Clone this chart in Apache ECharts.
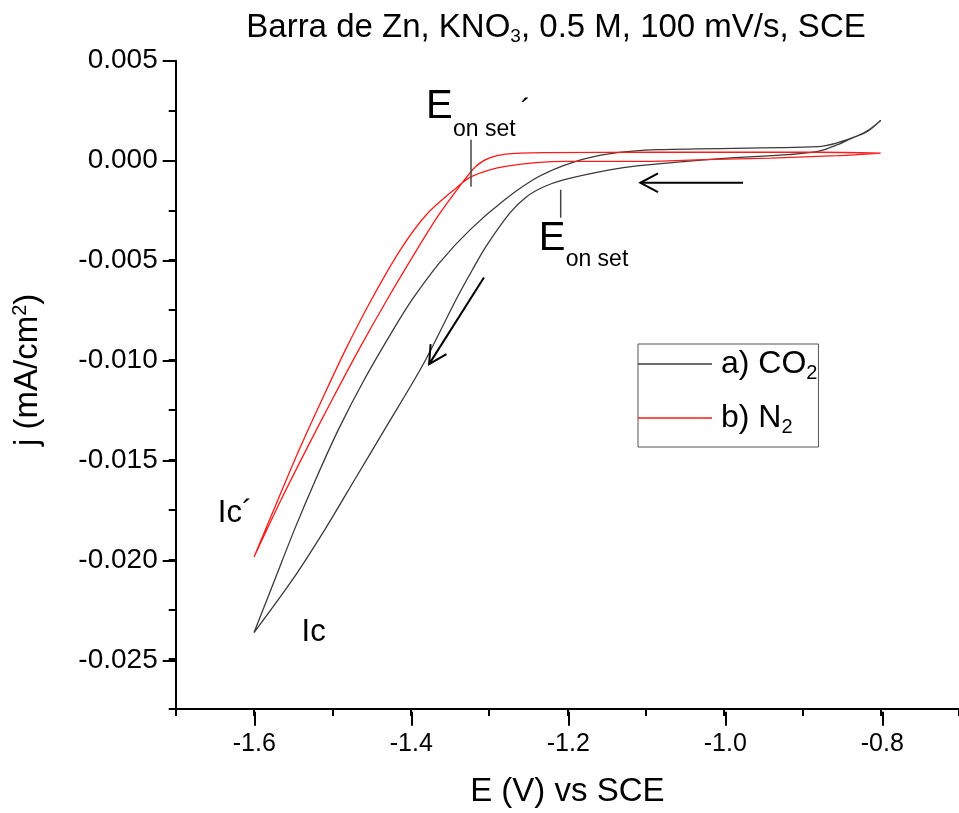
<!DOCTYPE html>
<html><head><meta charset="utf-8">
<script src="https://cdn.jsdelivr.net/npm/echarts@6/dist/echarts.min.js"></script>
<style>html,body{margin:0;padding:0;background:#fff}#c{width:959px;height:813px}</style>
</head><body><div id="c"></div>
<script>
// ---- data (E in V vs SCE, j in mA/cm2) ----
const co2Forward = [
  [-0.800, 0.00200], [-0.817, 0.00145], [-0.838, 0.00109], [-0.855, 0.00079],
  [-0.880, 0.00045], [-0.918, 0.00029], [-0.995, 0.00012], [-1.111, -0.00027],
  [-1.146, -0.00047], [-1.205, -0.00097], [-1.230, -0.00132], [-1.252, -0.00182],
  [-1.273, -0.00262], [-1.304, -0.00432], [-1.321, -0.00547], [-1.342, -0.00697],
  [-1.384, -0.01022], [-1.433, -0.01347], [-1.471, -0.01597], [-1.509, -0.01847],
  [-1.550, -0.02097], [-1.600, -0.02367]
];
const co2Return = [
  [-1.573, -0.02097], [-1.548, -0.01847], [-1.521, -0.01597], [-1.492, -0.01347],
  [-1.459, -0.01097], [-1.422, -0.00847], [-1.398, -0.00697], [-1.363, -0.00512],
  [-1.324, -0.00347], [-1.280, -0.00197], [-1.237, -0.00082], [-1.191, -0.00007],
  [-1.145, 0.00034], [-1.084, 0.00054], [-0.880, 0.00069], [-0.855, 0.00089],
  [-0.829, 0.00124], [-0.813, 0.00159], [-0.800, 0.00200]
];
const n2Forward = [
  [-0.800, 0.00037], [-0.855, 0.00024], [-0.940, 0.00012], [-1.024, 0.00004],
  [-1.109, -0.00005], [-1.202, -0.00005], [-1.279, -0.00030], [-1.322, -0.00080],
  [-1.340, -0.00132], [-1.380, -0.00272], [-1.413, -0.00447], [-1.450, -0.00697],
  [-1.483, -0.00947], [-1.513, -0.01197], [-1.542, -0.01447], [-1.569, -0.01697],
  [-1.600, -0.01988]
];
const n2Return = [
  [-1.565, -0.01697], [-1.533, -0.01447], [-1.500, -0.01197], [-1.466, -0.00947],
  [-1.430, -0.00697], [-1.392, -0.00447], [-1.364, -0.00272], [-1.338, -0.00132],
  [-1.317, -0.00030], [-1.300, 0.00012], [-1.279, 0.00032], [-1.228, 0.00039],
  [-1.084, 0.00041], [-0.880, 0.00041], [-0.800, 0.00037]
];
const seriesNames = ['a) CO2', 'b) N2'];
const legendRich = {'a) CO2': '{t|a) CO}{s|2}', 'b) N2': '{t|b) N}{s|2}'};

// annotation anchors in data coordinates
const onsetTicks = [
  {x: -1.323, y1: 0.00104, y2: -0.00132},
  {x: -1.2085, y1: -0.00147, y2: -0.00287}
];
const arrows = [
  {from: [-0.9757, -0.00112], to: [-1.1068, -0.00112]},
  {from: [-1.3065, -0.00587], to: [-1.3765, -0.01021]}
];
const labels = [
  {text: 'E', at: [-1.3803, 0.002685], size: 40},
  {text: 'on set', at: [-1.3459, 0.001535], size: 23},
  {text: '´', at: [-1.2594, 0.002485], size: 30},
  {text: 'E', at: [-1.2365, -0.003940], size: 40},
  {text: 'on set', at: [-1.2022, -0.004965], size: 23},
  {text: 'Ic´', at: [-1.6462, -0.017715], size: 31},
  {text: 'Ic', at: [-1.5393, -0.02364], size: 31}
];

const FONT = '"Liberation Sans", Arial, sans-serif';
const chart = echarts.init(document.getElementById('c'), null, {renderer: 'canvas'});
const tickStyle = {color: '#000', width: 2};
const yFmt = v => (Math.abs(v) < 1e-9 ? 0 : v).toFixed(3);

chart.setOption({
  animation: false,
  backgroundColor: '#fff',
  textStyle: {fontFamily: FONT},
  title: {
    text: 'Barra de Zn, KNO{s|3}, 0.5 M, 100 mV/s, SCE',
    left: 556, top: 10, textAlign: 'center', padding: 0,
    textStyle: {fontFamily: FONT, fontSize: 33, fontWeight: 'normal', color: '#000',
      rich: {s: {fontFamily: FONT, fontSize: 19, color: '#000', padding: [17, 0, 0, 0]}}}
  },
  legend: {
    data: seriesNames, orient: 'vertical', left: 638, top: 344,
    padding: [4, 1, 10, 0], itemGap: 19, itemWidth: 74, itemHeight: 1.5, icon: 'rect',
    borderColor: '#555', borderWidth: 1,
    formatter: n => legendRich[n],
    textStyle: {fontFamily: FONT, color: '#000', fontSize: 32,
      rich: {t: {fontFamily: FONT, fontSize: 32, color: '#000', padding: [0, 0, 0, 4]},
             s: {fontFamily: FONT, fontSize: 20, color: '#000', padding: [18, 0, 0, 0]}}}
  },
  grid: [
    {left: 175.7, width: 786, top: 60.7, bottom: 101.3},
    {left: 254.3, width: 628, top: 60.7, bottom: 101.3},
    {left: 175.7, width: 786, top: 60.7, bottom: 152.3}
  ],
  xAxis: [
    {gridIndex: 0, type: 'value', min: -1.7, max: -0.7, interval: 0.1,
     axisLine: {show: true, onZero: false, lineStyle: tickStyle},
     axisTick: {show: true, length: 7, lineStyle: tickStyle},
     axisLabel: {show: false}, splitLine: {show: false},
     name: 'E (V) vs SCE', nameLocation: 'middle', nameGap: 66,
     nameTextStyle: {fontFamily: FONT, fontSize: 33, color: '#000'}},
    {gridIndex: 1, type: 'value', min: -1.6, max: -0.8, interval: 0.2,
     axisLine: {show: false, onZero: false},
     axisTick: {show: true, length: 14, lineStyle: tickStyle},
     axisLabel: {fontFamily: FONT, fontSize: 25, color: '#000', margin: 20, formatter: v => v.toFixed(1)},
     splitLine: {show: false}},
    {gridIndex: 2, type: 'value', min: -1.7, max: -0.7, show: false}
  ],
  yAxis: [
    {gridIndex: 0, type: 'value', min: -0.0275, max: 0.005, interval: 0.0025,
     axisLine: {show: true, onZero: false, lineStyle: tickStyle},
     axisTick: {show: true, length: 7, lineStyle: tickStyle},
     axisLabel: {show: false}, splitLine: {show: false},
     name: 'j (mA/cm{p|2})', nameLocation: 'middle', nameGap: 130, nameRotate: 90,
     nameTextStyle: {fontFamily: FONT, fontSize: 33, color: '#000', padding: [0, 0, 0, 30],
       rich: {p: {fontFamily: FONT, fontSize: 20, color: '#000', padding: [0, 0, 15, 0]}}}},
    {gridIndex: 1, type: 'value', min: -1, max: 1, show: false},
    {gridIndex: 2, type: 'value', min: -0.025, max: 0.005, interval: 0.005,
     axisLine: {show: false, onZero: false},
     axisTick: {show: true, length: 13, lineStyle: tickStyle},
     axisLabel: {fontFamily: FONT, fontSize: 28, color: '#000', margin: 18, formatter: yFmt},
     splitLine: {show: false}}
  ],
  series: [
    {type: 'line', name: seriesNames[0], xAxisIndex: 0, yAxisIndex: 0,
     data: co2Forward.concat(co2Return), symbol: 'none', smooth: 0.3,
     lineStyle: {color: '#3a3a3a', width: 1.3}, itemStyle: {color: '#3a3a3a'}},
    {type: 'line', name: seriesNames[1], xAxisIndex: 0, yAxisIndex: 0,
     data: n2Forward.concat(n2Return), symbol: 'none', smooth: 0.3,
     lineStyle: {color: '#ff1a1a', width: 1.3}, itemStyle: {color: '#ff1a1a'}}
  ]
});

const px = d => chart.convertToPixel({gridIndex: 0}, d);
const g = [];
onsetTicks.forEach(t => {
  const a = px([t.x, t.y1]), b = px([t.x, t.y2]);
  g.push({type: 'line', shape: {x1: a[0], y1: a[1], x2: b[0], y2: b[1]}, style: {stroke: '#444', lineWidth: 1.5}, z: 10});
});
arrows.forEach(ar => {
  const a = px(ar.from), b = px(ar.to);
  const dx = a[0] - b[0], dy = a[1] - b[1], L = Math.hypot(dx, dy);
  const ux = dx / L, uy = dy / L, ang = 28 * Math.PI / 180, hl = 20;
  const r = s => [b[0] + hl * (ux * Math.cos(s * ang) - uy * Math.sin(s * ang)),
                  b[1] + hl * (ux * Math.sin(s * ang) + uy * Math.cos(s * ang))];
  g.push({type: 'line', shape: {x1: a[0], y1: a[1], x2: b[0], y2: b[1]}, style: {stroke: '#000', lineWidth: 2}, z: 10});
  g.push({type: 'polyline', shape: {points: [r(1), b, r(-1)]}, style: {stroke: '#000', lineWidth: 2, fill: null}, z: 10});
});
labels.forEach(l => {
  const p = px(l.at);
  g.push({type: 'text', x: p[0], y: p[1], z: 10,
    style: {text: l.text, fontFamily: FONT, fontSize: l.size, fill: '#000', align: 'left', verticalAlign: 'middle'}});
});
chart.setOption({graphic: g});
</script>
</body></html>
